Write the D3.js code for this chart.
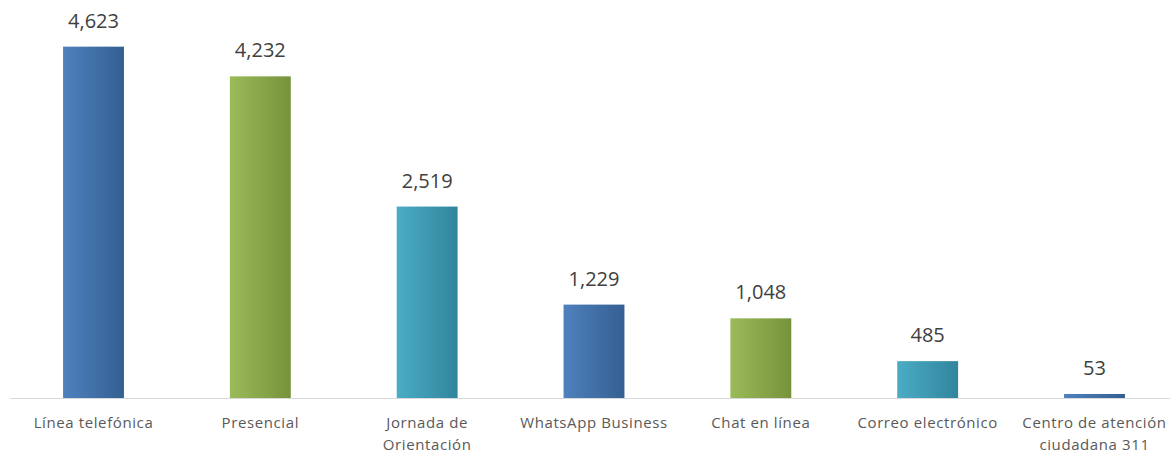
<!DOCTYPE html>
<html lang="en">
  <head>
    <meta charset="utf-8">
    <title>Canales de atención</title>
    <script src="https://d3js.org/d3.v7.min.js"></script>
    <style>
      body { margin: 0; background: #fff; }
      .val { font: 20px "Open Sans", sans-serif; fill: #404040; }
      .cat { font: 15px "Open Sans", sans-serif; fill: #595959; letter-spacing: 0.6px; }
    </style>
  </head>
  <body>
    <script>
    // data
    var categories = ["Línea telefónica", "Presencial", "Jornada de|Orientación",
                      "WhatsApp Business", "Chat en línea", "Correo electrónico",
                      "Centro de atención|ciudadana 311"];
    var values = [4623, 4232, 2519, 1229, 1048, 485, 53];
    var palette = [["#4f81bd", "#345f91"], ["#9bbb59", "#76923b"], ["#4bacc6", "#31859c"]];

    var w = 1170, h = 453;
    var svg = d3.select("body").append("svg")
                .attr("width", w)
                .attr("height", h);

    // gradients, one per colour
    var defs = svg.append("defs");
    palette.forEach(function(p, i) {
      var g = defs.append("linearGradient")
                  .attr("id", "grad" + i)
                  .attr("x1", "0%").attr("x2", "100%")
                  .attr("y1", "0%").attr("y2", "0%");
      g.append("stop").attr("offset", "0%").attr("stop-color", p[0]);
      g.append("stop").attr("offset", "100%").attr("stop-color", p[1]);
    });

    var xScale = d3.scaleBand()
                   .domain(categories)
                   .range([10, 1178])
                   .paddingInner(0.635)
                   .paddingOuter(0.318);

    var yScale = d3.scaleLinear()
                   .domain([0, 5000])
                   .range([398, 18]);

    // bars
    svg.selectAll("rect.bar")
       .data(values)
       .enter()
       .append("rect")
       .attr("class", "bar")
       .attr("x", function(d, i) { return xScale(categories[i]); })
       .attr("y", function(d) { return yScale(d); })
       .attr("width", xScale.bandwidth())
       .attr("height", function(d) { return yScale(0) - yScale(d); })
       .attr("fill", function(d, i) { return "url(#grad" + (i % 3) + ")"; });

    // axis line
    svg.append("line")
       .attr("x1", 10).attr("x2", w)
       .attr("y1", yScale(0) + 0.5).attr("y2", yScale(0) + 0.5)
       .attr("stroke", "#d9d9d9")
       .attr("stroke-width", 1);

    // value labels
    svg.selectAll("text.val")
       .data(values)
       .enter()
       .append("text")
       .attr("class", "val")
       .attr("text-anchor", "middle")
       .attr("x", function(d, i) { return xScale(categories[i]) + xScale.bandwidth() / 2; })
       .attr("y", function(d) { return yScale(d) - 19; })
       .text(function(d) { return d3.format(",")(d); });

    // category labels
    var cat = svg.selectAll("text.cat")
       .data(categories)
       .enter()
       .append("text")
       .attr("class", "cat")
       .attr("text-anchor", "middle")
       .attr("x", function(d) { return xScale(d) + xScale.bandwidth() / 2; })
       .attr("y", 428);
    cat.selectAll("tspan")
       .data(function(d) { return d.split("|"); })
       .enter()
       .append("tspan")
       .attr("x", function() { var p = this.parentNode; return p.getAttribute("x"); })
       .attr("dy", function(d, i) { return i ? 22 : 0; })
       .text(function(d) { return d; });
    </script>
  </body>
</html>
